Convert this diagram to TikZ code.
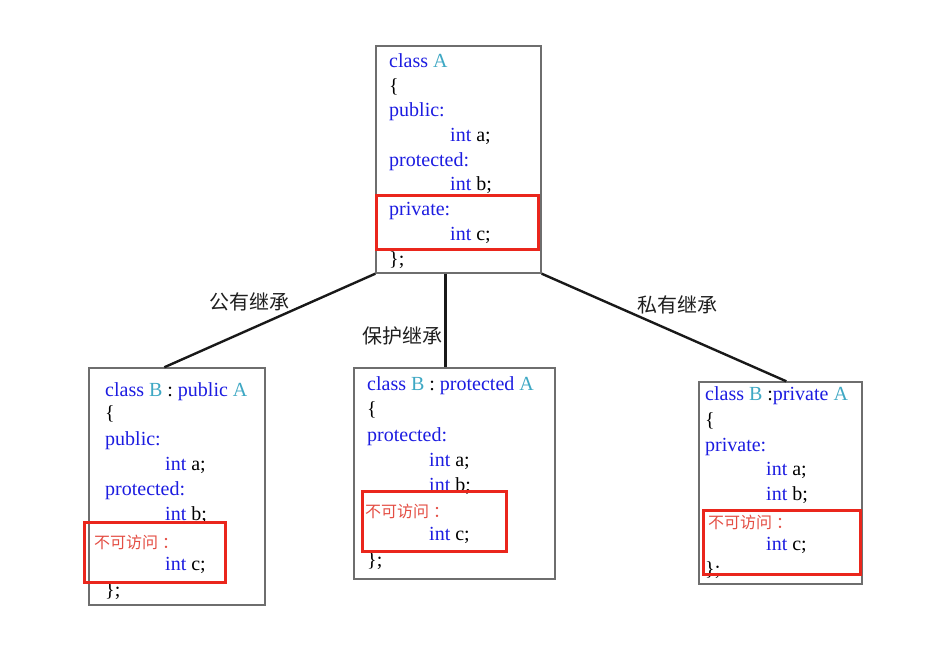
\documentclass[tikz,border=0pt]{standalone}
\usepackage{fontspec}
\setmainfont{Liberation Serif}
\newfontfamily\cjk{Noto Sans CJK SC}
\usetikzlibrary{calc}
\definecolor{kwblue}{RGB}{28,28,225}
\definecolor{nameteal}{RGB}{62,168,196}
\definecolor{redtxt}{RGB}{228,78,68}
\definecolor{redbox}{RGB}{234,38,28}
\definecolor{boxgray}{RGB}{110,110,110}
\newcommand\kwd[1]{\textcolor{kwblue}{#1}}
\newcommand\nm[1]{\textcolor{nameteal}{#1}}
\newcommand\hidtxt{不可访问\hspace{4pt}：}
\begin{document}
\begin{tikzpicture}[x=1pt,y=-1pt,
  classbox/.style={draw=boxgray,line width=1.4pt,fill=white,inner sep=0pt},
  hidebox/.style={draw=redbox,line width=3pt,inner sep=0pt},
  ln/.style={anchor=base west,inner sep=0pt,font=\fontsize{20}{24}\selectfont},
  hid/.style={anchor=base west,inner sep=0pt,text=redtxt,font=\cjk\fontsize{16}{19}\selectfont},
  lbl/.style={inner sep=0pt,text=black!88,font=\cjk\fontsize{20}{23}\selectfont},
  conn/.style={line width=2.4pt,black!90}]
\useasboundingbox (0,0) rectangle (943,652);
\fill[white] (0,0) rectangle (943,652);

% boxes
\node[classbox,minimum width=165pt,minimum height=227pt] (A) at (458.5,159.5) {};
\node[classbox,minimum width=176pt,minimum height=237pt] (B1) at (177,486.5) {};
\node[classbox,minimum width=201pt,minimum height=211pt] (B2) at (454.5,473.5) {};
\node[classbox,minimum width=163pt,minimum height=202pt] (B3) at (780.5,483) {};

% connectors
\draw[conn] (A.south west) -- ([xshift=76pt]B1.north west);
\draw[conn] ([xshift=70pt]A.south west) -- ([xshift=92pt]B2.north west);
\draw[conn] (A.south east) -- ([xshift=88pt]B3.north west);

% labels
\node[lbl] (l1) at (249,302) {公有继承};
\node[lbl] (l2) at (402,336) {保护继承};
\node[lbl] (l3) at (677,305) {私有继承};

% class A
\node[ln] (a1) at (389,68) {\kwd{class} \nm{A}};
\node[ln] (a2) at (389,93) {\{};
\node[ln] (a3) at (389,117) {\kwd{public:}};
\node[ln] (a4) at (450,142) {\kwd{int} a;};
\node[ln] (a5) at (389,167) {\kwd{protected:}};
\node[ln] (a6) at (450,191) {\kwd{int} b;};
\node[ln] (a7) at (389,216) {\kwd{private:}};
\node[ln] (a8) at (450,241) {\kwd{int} c;};
\node[ln] (a9) at (389,266) {\};};
\node[hidebox,minimum width=162pt,minimum height=54pt] (rA) at (457,223) {};

% class B : public A
\node[ln] (b1) at (105,396) {\kwd{class} \nm{B} : \kwd{public} \nm{A}};
\node[ln] (b2) at (105,420) {\{};
\node[ln] (b3) at (105,445) {\kwd{public:}};
\node[ln] (b4) at (165,470) {\kwd{int} a;};
\node[ln] (b5) at (105,495) {\kwd{protected:}};
\node[ln] (b6) at (165,520) {\kwd{int} b;};
\node[hid] (b7) at (94,548) {\hidtxt};
\node[ln] (b8) at (165,570) {\kwd{int} c;};
\node[ln] (b9) at (105,596) {\};};
\node[hidebox,minimum width=141pt,minimum height=60pt] (rB1) at (154.5,552) {};

% class B : protected A
\node[ln] (c1) at (367,391) {\kwd{class} \nm{B} : \kwd{protected} \nm{A}};
\node[ln] (c2) at (367,416) {\{};
\node[ln] (c3) at (367,441) {\kwd{protected:}};
\node[ln] (c4) at (429,466) {\kwd{int} a;};
\node[ln] (c5) at (429,491) {\kwd{int} b;};
\node[hid] (c6) at (365,517) {\hidtxt};
\node[ln] (c7) at (429,540) {\kwd{int} c;};
\node[ln] (c8) at (367,566) {\};};
\node[hidebox,minimum width=144pt,minimum height=60pt] (rB2) at (434,521) {};

% class B : private A
\node[ln] (d1) at (705,401) {\kwd{class} \nm{B} :\kwd{private} \nm{A}};
\node[ln] (d2) at (705,426) {\{};
\node[ln] (d3) at (705,451) {\kwd{private:}};
\node[ln] (d4) at (766,475) {\kwd{int} a;};
\node[ln] (d5) at (766,500) {\kwd{int} b;};
\node[hid] (d6) at (708,528) {\hidtxt};
\node[ln] (d7) at (766,550) {\kwd{int} c;};
\node[ln] (d8) at (705,575) {\};};
\node[hidebox,minimum width=157pt,minimum height=64pt] (rB3) at (781.5,542) {};
\end{tikzpicture}
\end{document}
